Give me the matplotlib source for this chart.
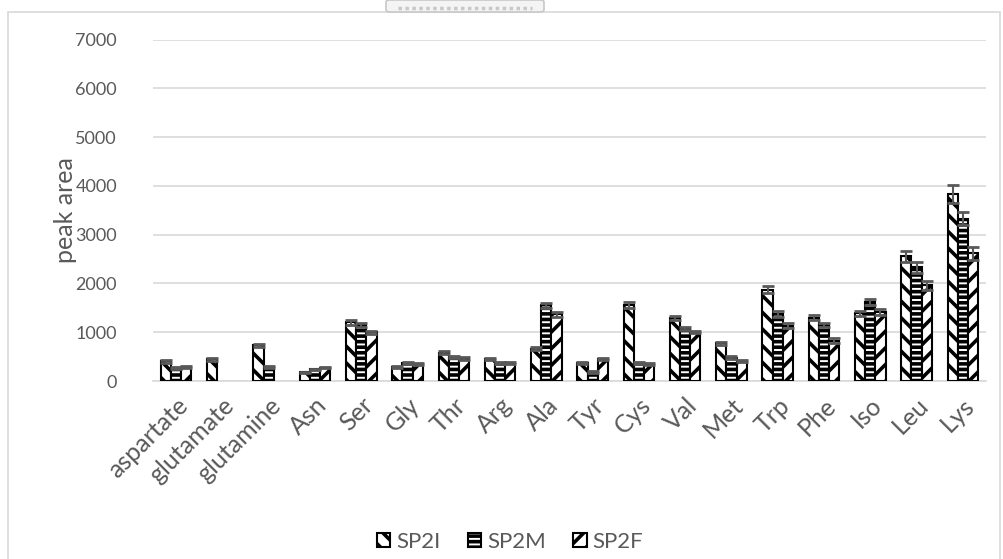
import matplotlib
matplotlib.use("Agg")
import matplotlib.pyplot as plt
import numpy as np
from matplotlib.patches import Rectangle, FancyBboxPatch

plt.rcParams['font.family'] = ['Lato', 'DejaVu Sans']
plt.rcParams['hatch.linewidth'] = 2.6

categories = ["aspartate", "glutamate", "glutamine", "Asn", "Ser", "Gly", "Thr", "Arg",
              "Ala", "Tyr", "Cys", "Val", "Met", "Trp", "Phe", "Iso", "Leu", "Lys"]

sp2i = [400, 450, 730, 175, 1200, 290, 580, 455, 660, 360, 1555, 1290, 770, 1870, 1300, 1385, 2555, 3830]
sp2m = [275, 0, 290, 240, 1150, 370, 495, 370, 1550, 185, 360, 1075, 480, 1375, 1150, 1620, 2335, 3330]
sp2f = [290, 0, 0, 275, 1000, 345, 460, 365, 1370, 445, 340, 1005, 410, 1130, 830, 1410, 1960, 2620]

sp2i_err = [30, 30, 35, 15, 45, 20, 30, 25, 30, 20, 60, 40, 35, 75, 50, 55, 115, 190]
sp2m_err = [20, 0, 20, 15, 40, 20, 25, 20, 55, 15, 20, 30, 25, 60, 45, 60, 115, 140]
sp2f_err = [20, 0, 0, 15, 35, 20, 25, 20, 50, 20, 20, 30, 20, 50, 45, 65, 95, 130]

series_names = ["SP2I", "SP2M", "SP2F"]
series_vals = [sp2i, sp2m, sp2f]
series_errs = [sp2i_err, sp2m_err, sp2f_err]
hatches = ["\\\\", "---", "//"]

yticks = [0, 1000, 2000, 3000, 4000, 5000, 6000, 7000]

W, H = 1004, 559
fig = plt.figure(figsize=(W / 100, H / 100), dpi=100)

# chart-area frame
fig.patches.append(Rectangle((8 / W, 0 - 0.01), (1000 - 8) / W, (H - 12) / H + 0.01,
                             transform=fig.transFigure, fill=False,
                             edgecolor="#d9d9d9", linewidth=1.2, zorder=0))
# small tab at the top edge
fig.patches.append(FancyBboxPatch((386 / W, (H - 12) / H), (544 - 386) / W, 12 / H,
                                  boxstyle="round,pad=0,rounding_size=0.004",
                                  transform=fig.transFigure, facecolor="#f4f4f4",
                                  edgecolor="#c8c8c8", linewidth=1.2, zorder=0))
fig.lines.append(plt.Line2D([398 / W, 532 / W], [(H - 8) / H, (H - 8) / H],
                            transform=fig.transFigure, color="#c8c8c8",
                            linewidth=2.5, linestyle=(0, (1, 1))))

ax = fig.add_axes([153 / W, 1 - 381 / H, (986 - 153) / W, (381 - 39.6) / H])

x = np.arange(len(categories))
bw = 0.22
offsets = [-bw, 0, bw]
handles = []
for vals, errs, hatch, off, name in zip(series_vals, series_errs, hatches, offsets, series_names):
    bars = ax.bar(x + off, vals, width=bw, color="white", edgecolor="black",
                  linewidth=1.5, hatch=hatch, label=name, zorder=3)
    for b, v in zip(bars, vals):
        if v == 0:
            b.set_visible(False)
    handles.append(bars)
    ev = np.array(vals, dtype=float)
    ee = np.array(errs, dtype=float)
    mask = ev > 0
    ax.errorbar((x + off)[mask], ev[mask], yerr=ee[mask], fmt="none",
                ecolor="#595959", elinewidth=1.5, capsize=4.5, capthick=2, zorder=4)

ax.set_xlim(-0.5, len(categories) - 0.5)
ax.set_ylim(0, 7000)
ax.set_yticks(yticks)
ax.set_yticklabels([str(v) for v in yticks])
ax.set_xticks(x)
ax.set_xticklabels(categories, rotation=45, ha="right", rotation_mode="anchor")
ax.tick_params(axis="y", length=0, pad=26, labelsize=13, labelcolor="#595959")
ax.tick_params(axis="x", length=0, pad=9, labelsize=18, labelcolor="#595959")
ax.grid(axis="y", color="#d9d9d9", linewidth=1.2, zorder=0)
ax.set_axisbelow(True)
for s in ["top", "right", "left"]:
    ax.spines[s].set_visible(False)
ax.spines["bottom"].set_color("#d9d9d9")
ax.spines["bottom"].set_linewidth(1.2)

ax.set_ylabel("peak area", fontsize=18, color="#595959")
ax.yaxis.set_label_coords((77 - 153) / (986 - 153), 0.5)

fig.legend(handles=handles, labels=series_names, loc="center",
           bbox_to_anchor=(510 / W, 1 - 542 / H), ncol=3, frameon=False,
           fontsize=16, labelcolor="#595959", handlelength=0.6, handleheight=0.6,
           handletextpad=0.25, columnspacing=1.25)

fig.savefig("out.png", dpi=100)
